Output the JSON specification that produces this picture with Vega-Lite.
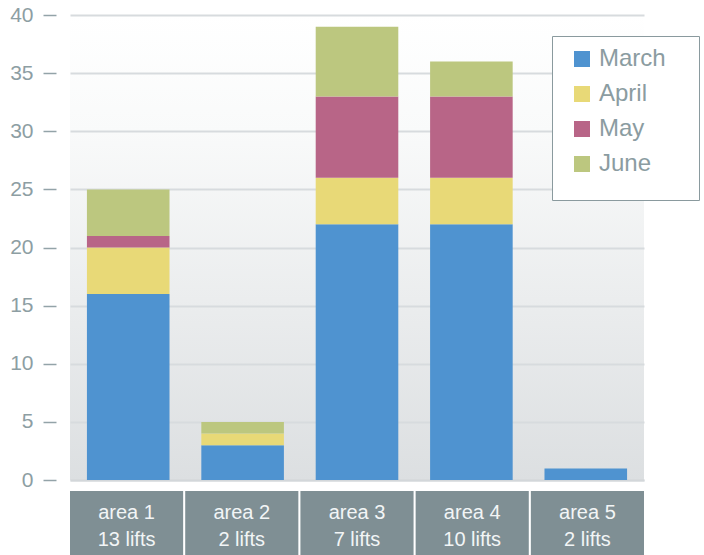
{
  "$schema": "https://vega.github.io/schema/vega-lite/v6.json",
  "padding": {"left": 9, "top": 4, "right": 0, "bottom": 0},
  "background": "white",
  "bounds": "flush",
  "spacing": 11,
  "config": {"font": "Liberation Sans", "view": {"stroke": null}},
  "datasets": {
    "bars": [
      {"area": "area 1", "month": "March", "o": 1, "value": 16},
      {"area": "area 1", "month": "April", "o": 2, "value": 4},
      {"area": "area 1", "month": "May", "o": 3, "value": 1},
      {"area": "area 1", "month": "June", "o": 4, "value": 4},
      {"area": "area 2", "month": "March", "o": 1, "value": 3},
      {"area": "area 2", "month": "April", "o": 2, "value": 1},
      {"area": "area 2", "month": "June", "o": 4, "value": 1},
      {"area": "area 3", "month": "March", "o": 1, "value": 22},
      {"area": "area 3", "month": "April", "o": 2, "value": 4},
      {"area": "area 3", "month": "May", "o": 3, "value": 7},
      {"area": "area 3", "month": "June", "o": 4, "value": 6},
      {"area": "area 4", "month": "March", "o": 1, "value": 22},
      {"area": "area 4", "month": "April", "o": 2, "value": 4},
      {"area": "area 4", "month": "May", "o": 3, "value": 7},
      {"area": "area 4", "month": "June", "o": 4, "value": 3},
      {"area": "area 5", "month": "March", "o": 1, "value": 1}
    ],
    "areas": [
      {"area": "area 1", "label": "area 1\n13 lifts"},
      {"area": "area 2", "label": "area 2\n2 lifts"},
      {"area": "area 3", "label": "area 3\n7 lifts"},
      {"area": "area 4", "label": "area 4\n10 lifts"},
      {"area": "area 5", "label": "area 5\n2 lifts"}
    ]
  },
  "vconcat": [
    {
      "width": 574,
      "height": 465,
      "view": {
        "stroke": null,
        "fill": {
          "gradient": "linear",
          "x1": 0, "y1": 0, "x2": 0, "y2": 1,
          "stops": [
            {"offset": 0, "color": "#ffffff"},
            {"offset": 0.25, "color": "#f9fafa"},
            {"offset": 1, "color": "#dcdfe1"}
          ]
        }
      },
      "data": {"name": "bars"},
      "mark": {"type": "bar"},
      "encoding": {
        "x": {
          "field": "area", "type": "nominal",
          "scale": {"paddingInner": 0.278, "paddingOuter": 0.148},
          "axis": {"labels": false, "ticks": false, "title": null, "grid": false, "domainColor": "#d3d7da", "domainWidth": 2}
        },
        "y": {
          "field": "value", "type": "quantitative", "stack": "zero",
          "scale": {"domain": [0, 40]},
          "axis": {
            "values": [0, 5, 10, 15, 20, 25, 30, 35, 40],
            "title": null, "domain": false, "offset": 14, "tickSize": 13,
            "tickColor": "#93a3a8", "tickWidth": 1.5, "labelPadding": 10,
            "labelFontSize": 21, "labelColor": "#8d9ea3", "labelFont": "Liberation Sans",
            "gridColor": "#d7dbde", "gridWidth": 2
          }
        },
        "color": {
          "field": "month", "type": "nominal",
          "scale": {"domain": ["March", "April", "May", "June"], "range": ["#4f93d0", "#e8d977", "#b86587", "#bcc77f"]},
          "legend": {
            "orient": "none", "legendX": 482, "legendY": 21,
            "title": "MMMMMMMMMMMMMMMMMMc", "titleOrient": "bottom", "titleFontSize": 8, "titlePadding": 5,
            "titleColor": "#ffffff", "titleLimit": 300,
            "padding": 11, "symbolOffset": 7,
            "strokeColor": "#8a9a9e", "fillColor": "#ffffff",
            "symbolType": "square", "symbolSize": 256, "symbolStrokeWidth": 0,
            "labelFontSize": 24, "labelColor": "#8b9ca1", "labelFont": "Liberation Sans",
            "labelOffset": 5, "rowPadding": 11
          }
        },
        "order": {"field": "o", "type": "quantitative"}
      }
    },
    {
      "width": 574,
      "height": 64,
      "data": {"name": "areas"},
      "layer": [
        {
          "mark": {"type": "bar", "color": "#7f8f94"},
          "encoding": {
            "x": {"field": "area", "type": "nominal", "scale": {"paddingInner": 0.018, "paddingOuter": 0}, "axis": null}
          }
        },
        {
          "mark": {"type": "text", "color": "#f2f5f6", "fontSize": 20, "lineBreak": "\n", "lineHeight": 27, "dy": -10, "font": "Liberation Sans"},
          "encoding": {
            "x": {"field": "area", "type": "nominal", "axis": null},
            "text": {"field": "label"}
          }
        }
      ]
    }
  ]
}
